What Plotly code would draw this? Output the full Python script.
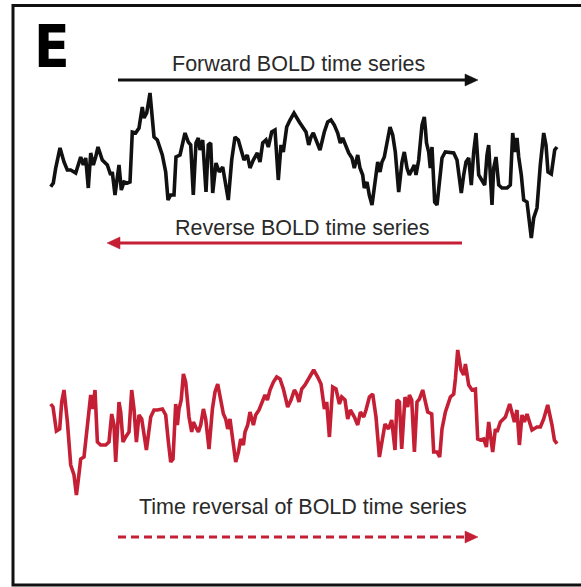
import plotly.graph_objects as go

# BOLD signal samples (time in scan units, amplitude in arbitrary units)
time_pts = [
    0.7, 3.3, 5.7, 10, 14, 17.3, 20.7, 25.7, 30.7, 33.3, 35.7, 38.3, 40.7, 43.3, 45.7, 48,
    52.3, 57.3, 60.7, 62.3, 65, 67.3, 69, 71.3, 74, 77.3, 80, 82.3, 85.7, 89, 92.3, 94,
    96.7, 100, 102.3, 104, 107.3, 112.3, 115.7, 118, 120.7, 124, 126, 130, 135, 138.3,
    140.7, 143.3, 146, 148.3, 150, 152.7, 156, 158.3, 160.7, 162.7, 166, 169.3, 172.7,
    175, 178.3, 181.7, 185, 188.3, 191.7, 194, 197.3, 200, 203.3, 207.3, 210, 212.7, 216,
    218.3, 221.7, 225, 228.3, 231, 233.3, 236.7, 240, 244, 249.3, 252.7, 256, 258.7, 261,
    263.3, 266.7, 270, 274.3, 277.7, 281, 284.3, 287.7, 290.3, 292.7, 295.3, 298.7, 302,
    304.3, 307.7, 310, 312.7, 314.3, 317, 319.3, 322, 324.3, 327.7, 330, 332, 334.3, 337.7,
    340, 342.7, 345.3, 348.7, 352, 354.3, 357, 359.3, 362, 364.3, 366, 368.7, 372, 374.3,
    375.5, 376.5, 378.7, 380.3, 382, 384.7, 387, 389.3, 392, 395.3, 400.3, 403.7, 407,
    409.3, 411.3, 413.7, 416, 418.7, 421.3, 423.7, 426, 428.7, 432, 434.7, 437, 438.7,
    440.3, 442, 443.7, 446, 448.7, 452, 457, 460.3, 462.7, 464.7, 467, 468.7, 471.3,
    473.7, 477, 479.3, 481.3, 483.7, 487, 490.3, 493.7, 496, 498, 501.3, 504.7, 507,
]
bold_signal = [
    -21.7, -18, -3, 17, 3, -5, -5, -8, 8, 0, 7, -23, 12, 0, 8, 18,
    5, 0, -10, -7, -30, -13, 0, -25, -17, -18, -17, 33, 32, 37, 58, 47,
    52, 72, 43, 28, 25, 10, -7, -35, -30, -30, 8, 10, 32, 23,
    20, -30, 22, 27, 15, 25, -27, 20, 22, -28, 2, -7, -2,
    -18, -35, 5, 28, 25, 12, 5, 10, -3, 5, 12, 3, 22, 25,
    18, 33, 35, -15, 20, 13, 38, 45, 52, 43, 37, 33, 20, 28,
    32, 22, 15, 33, 43, 45, 40, 32, 22, 27, 20, 12, 7,
    -3, 10, -3, -10, -23, -17, -30, -40, -20, 3, -7, 3, 8, 27,
    38, 30, 13, -27, 3, 13, -3, -10, -5, 0, -10, 5, 40, 48,
    35, 22, 13, -3, 18, -37, -40, -20, 7, 13, 12, 12, 5,
    -13, -28, -10, 3, 7, -20, 13, 32, -10, -15, -20, 10, 20,
    -10, -40, -3, 8, -20, -23, -23, -20, 32, 13, 27, 8, -10,
    -35, -37, -57, -73, -53, -43, 0, 32, 20, -7, -9, 15, 18,
]

labels = {
    "panel": "E",
    "forward": "Forward BOLD time series",
    "reverse": "Reverse BOLD time series",
    "reversal": "Time reversal of BOLD time series",
}

BLACK = "#111111"
RED = "#c41f34"
TEXT = "#2a2a2a"
W, H = 581, 587

# Reverse the series in time over the same span
t0, t1 = time_pts[0], time_pts[-1]
time_rev = [t0 + t1 - t for t in reversed(time_pts)]
signal_rev = list(reversed(bold_signal))

fig = go.Figure()
fig.add_trace(go.Scatter(x=time_pts, y=bold_signal, mode="lines",
                         line=dict(color=BLACK, width=3.6), yaxis="y",
                         hoverinfo="skip"))
fig.add_trace(go.Scatter(x=time_rev, y=signal_rev, mode="lines",
                         line=dict(color=RED, width=3.6), yaxis="y2",
                         hoverinfo="skip"))


def px(x):
    return x / W


def py(y):
    return 1 - y / H


shapes = []
# panel frame
shapes.append(dict(type="rect", xref="paper", yref="paper",
                   x0=px(13), x1=px(590), y0=py(585), y1=py(5.5),
                   line=dict(color=BLACK, width=3)))


def arrow(x_tail, x_tip, y, color, dash="solid"):
    head = 13 if x_tip > x_tail else -13
    base = x_tip - head
    shapes.append(dict(type="line", xref="paper", yref="paper",
                       x0=px(x_tail), x1=px(base + head * 0.2), y0=py(y), y1=py(y),
                       line=dict(color=color, width=3, dash=dash)))
    shapes.append(dict(type="path", xref="paper", yref="paper",
                       path=f"M {px(x_tip)} {py(y)} L {px(base)} {py(y - 6)} "
                            f"L {px(base)} {py(y + 6)} Z",
                       fillcolor=color, line=dict(color=color, width=0.5)))


arrow(118, 478, 80, BLACK)
arrow(462, 107, 243, RED)
arrow(118, 478, 537, RED, dash="8px,5px")

font = "Liberation Sans, Arial, sans-serif"
annotations = [
    dict(text=f"<b>{labels['panel']}</b>", x=px(52), y=py(47), showarrow=False,
         font=dict(family="Liberation Sans Narrow, DejaVu Sans Condensed, sans-serif",
                   size=58, color="#000000")),
    dict(text=labels["forward"], x=px(298), y=py(64), showarrow=False,
         font=dict(family=font, size=21.5, color=TEXT)),
    dict(text=labels["reverse"], x=px(303), y=py(228), showarrow=False,
         font=dict(family=font, size=21.5, color=TEXT)),
    dict(text=labels["reversal"], x=px(303), y=py(507), showarrow=False,
         font=dict(family=font, size=21.5, color=TEXT)),
]
for a in annotations:
    a.update(xref="paper", yref="paper", xanchor="center", yanchor="middle")

fig.update_layout(
    width=W, height=H,
    margin=dict(l=0, r=0, t=0, b=0),
    paper_bgcolor="white", plot_bgcolor="white",
    showlegend=False,
    xaxis=dict(range=[-50, 531], visible=False, fixedrange=True),
    yaxis=dict(range=[-422, 165], visible=False, domain=[0, 1]),
    yaxis2=dict(range=[-165, 422], visible=False, overlaying="y", domain=[0, 1]),
    shapes=shapes,
    annotations=annotations,
)

fig.write_html("out.html", config={"displayModeBar": False})
